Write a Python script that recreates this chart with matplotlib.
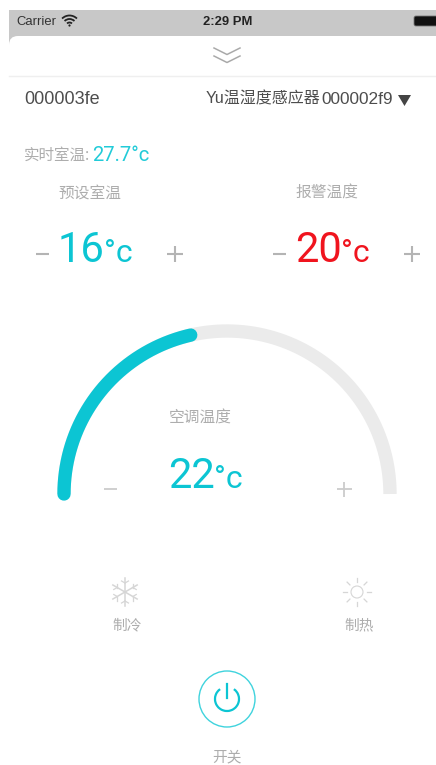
import numpy as np
import matplotlib
matplotlib.use("Agg")
import matplotlib.pyplot as plt
from matplotlib.patches import Arc, Circle, FancyBboxPatch, Polygon, Rectangle

plt.rcParams['font.family'] = ['Noto Sans CJK SC', 'DejaVu Sans']

device_id = "000003fe"
sensor_name = "Yu温湿度感应器"
sensor_id = "000002f9"
room_label = "实时室温:"
room_temp = "27.7"
preset_label = "预设室温"
preset_temp = 16
alarm_label = "报警温度"
alarm_temp = 20
gauge_label = "空调温度"
gauge_min = 16
gauge_max = 30
gauge_temp = 22
mode_labels = ["制冷", "制热"]
power_label = "开关"

CYAN = "#0cc5d3"
GREY = "#adadad"
DARK = "#4d4d4d"
NUM = ["Roboto", "DejaVu Sans"]
LATIN = ["Liberation Sans", "Noto Sans CJK SC"]

fig = plt.figure(figsize=(4.36, 7.65), dpi=100)
ax = fig.add_axes([0, 0, 1, 1])
ax.set_xlim(0, 436)
ax.set_ylim(765, 0)
ax.axis("off")


def temp(x, y, value, color, size=30, unit=23):
    # big number plus the small degree sign after it
    t = ax.text(x, y, str(value), color=color, fontsize=size, family=NUM,
                ha="left", va="baseline", zorder=3)
    fig.canvas.draw()
    box = t.get_window_extent()
    ax.text(box.x1 - 1, y, "°c", color=color, fontsize=unit, family=NUM,
            ha="left", va="baseline", zorder=3)


def pm(x, y, size, sign, color="#b4b4b4", lw=1.5):
    ax.plot([x - size, x + size], [y, y], color=color, lw=lw, solid_capstyle="butt", zorder=3)
    if sign == "+":
        ax.plot([x, x], [y - size, y + size], color=color, lw=lw, solid_capstyle="butt", zorder=3)


# status bar and sheet
ax.add_patch(Rectangle((9, 10), 427, 36, fc="#c8c8c8", ec="none", zorder=0.4))
ax.add_patch(Rectangle((9, 50), 427, 715, fc="white", ec="none", zorder=0.5))
ax.add_patch(FancyBboxPatch((9, 36), 460, 60, boxstyle="round,pad=0,rounding_size=9",
                            fc="white", ec="none", zorder=0.6))
ax.text(16, 21.5, "Carrier", fontsize=9.4, color="#333333", family=LATIN, va="center", zorder=3)
ax.text(228, 21.5, "2:29 PM", fontsize=9.4, color="#222222", family=LATIN, weight="bold",
        ha="center", va="center", zorder=3)
for r in [3.5, 7, 10.5]:
    ax.add_patch(Arc((69.5, 26), 2 * r, 2 * r, theta1=225, theta2=315, color="#222222", lw=1.3, zorder=3))
ax.add_patch(Circle((69.5, 25.5), 1.1, fc="#222222", ec="none", zorder=3))
ax.add_patch(FancyBboxPatch((414, 16), 30, 10, boxstyle="round,pad=0,rounding_size=2",
                            fc="#111111", ec="#777777", lw=0.6, zorder=3))

# pull-down chevrons
for y0 in [48, 56]:
    ax.plot([214, 227, 240], [y0, y0 + 6.5, y0], color="#aaaaaa", lw=1.1, zorder=3)
ax.plot([9, 436], [75.5, 75.5], color="#efefef", lw=1, zorder=3)

# device row
ax.text(24, 99, device_id, fontsize=13, color=DARK, family=LATIN, va="center", zorder=3)
ax.text(206, 99, sensor_name, fontsize=11.5, color=DARK, family=LATIN, va="center", zorder=3)
ax.text(321, 99, sensor_id, fontsize=12.4, color=DARK, family=LATIN, va="center", zorder=3)
ax.add_patch(Polygon([(398, 95), (411, 95), (404.5, 106)], fc="#444444", ec="none", zorder=3))

# room temperature
ax.text(24, 155, room_label, fontsize=11.2, color=GREY, va="center", zorder=3)
ax.text(92, 161, room_temp + "°c", fontsize=14.6, color="#22cbd8", family=NUM, va="baseline", zorder=3)

# preset and alarm
ax.text(90, 193, preset_label, fontsize=11.3, color=GREY, ha="center", va="center", zorder=3)
ax.text(327, 193, alarm_label, fontsize=11.3, color=GREY, ha="center", va="center", zorder=3)
temp(58, 262, preset_temp, CYAN)
temp(295, 262, alarm_temp, "#f0141e")
pm(42, 253.5, 6.5, "-")
pm(175, 253.5, 8, "+")
pm(279, 253.5, 6.5, "-")
pm(412, 253.5, 8, "+")

# gauge, half circle from the left end over the top
cx, cy, rad = 227, 494, 163
track = np.linspace(np.pi, 0, 200)
ax.plot(cx + rad * np.cos(track), cy - rad * np.sin(track), color="#ebebeb", lw=9.6,
        solid_capstyle="butt", zorder=2)
frac = (gauge_temp - gauge_min) / (gauge_max - gauge_min)
done = np.linspace(np.pi, np.pi * (1 - frac), 200)
ax.plot(cx + rad * np.cos(done), cy - rad * np.sin(done), color=CYAN, lw=9.6,
        solid_capstyle="round", zorder=3)
ax.text(200, 418, gauge_label, fontsize=11.3, color=GREY, ha="center", va="center", zorder=3)
temp(168, 488, gauge_temp, CYAN)
pm(110, 489, 6.5, "-", color="#cccccc", lw=1.3)
pm(344, 489, 7.5, "+", color="#cccccc", lw=1.3)

# cooling icon
ic = "#d6d6d6"
sx, sy = 125, 592
for a in [90, 30, 150]:
    dx, dy = 14 * np.cos(np.radians(a)), 14 * np.sin(np.radians(a))
    ax.plot([sx - dx, sx + dx], [sy - dy, sy + dy], color=ic, lw=1.1, zorder=3)
for a in range(30, 360, 60):
    px, py = sx + 9 * np.cos(np.radians(a)), sy + 9 * np.sin(np.radians(a))
    for off in [-60, 60]:
        b = np.radians(a + off)
        ax.plot([px, px + 4 * np.cos(b)], [py, py + 4 * np.sin(b)], color=ic, lw=0.9, zorder=3)
ax.text(127.5, 625, mode_labels[0], fontsize=10.6, color=GREY, ha="center", va="center", zorder=3)

# heating icon
sx, sy = 357, 592
ax.add_patch(Circle((sx, sy), 6, fc="none", ec=ic, lw=0.8, zorder=3))
for a in range(0, 360, 45):
    c, s = np.cos(np.radians(a)), np.sin(np.radians(a))
    ax.plot([sx + 10 * c, sx + 14 * c], [sy + 10 * s, sy + 14 * s], color=ic, lw=0.9, zorder=3)
ax.text(359.5, 625, mode_labels[1], fontsize=10.6, color=GREY, ha="center", va="center", zorder=3)

# power button
px, py = 227, 699
ax.add_patch(Circle((px, py), 28, fc="none", ec="#3fd3dd", lw=1, zorder=3))
ax.add_patch(Arc((px, py), 24, 24, theta1=-55, theta2=235, color=CYAN, lw=1.6, zorder=3))
ax.plot([px, px], [684, 698], color=CYAN, lw=1.6, zorder=3)
ax.text(227, 757, power_label, fontsize=10.6, color=GREY, ha="center", va="center", zorder=3)

fig.savefig("out.png", dpi=100)
